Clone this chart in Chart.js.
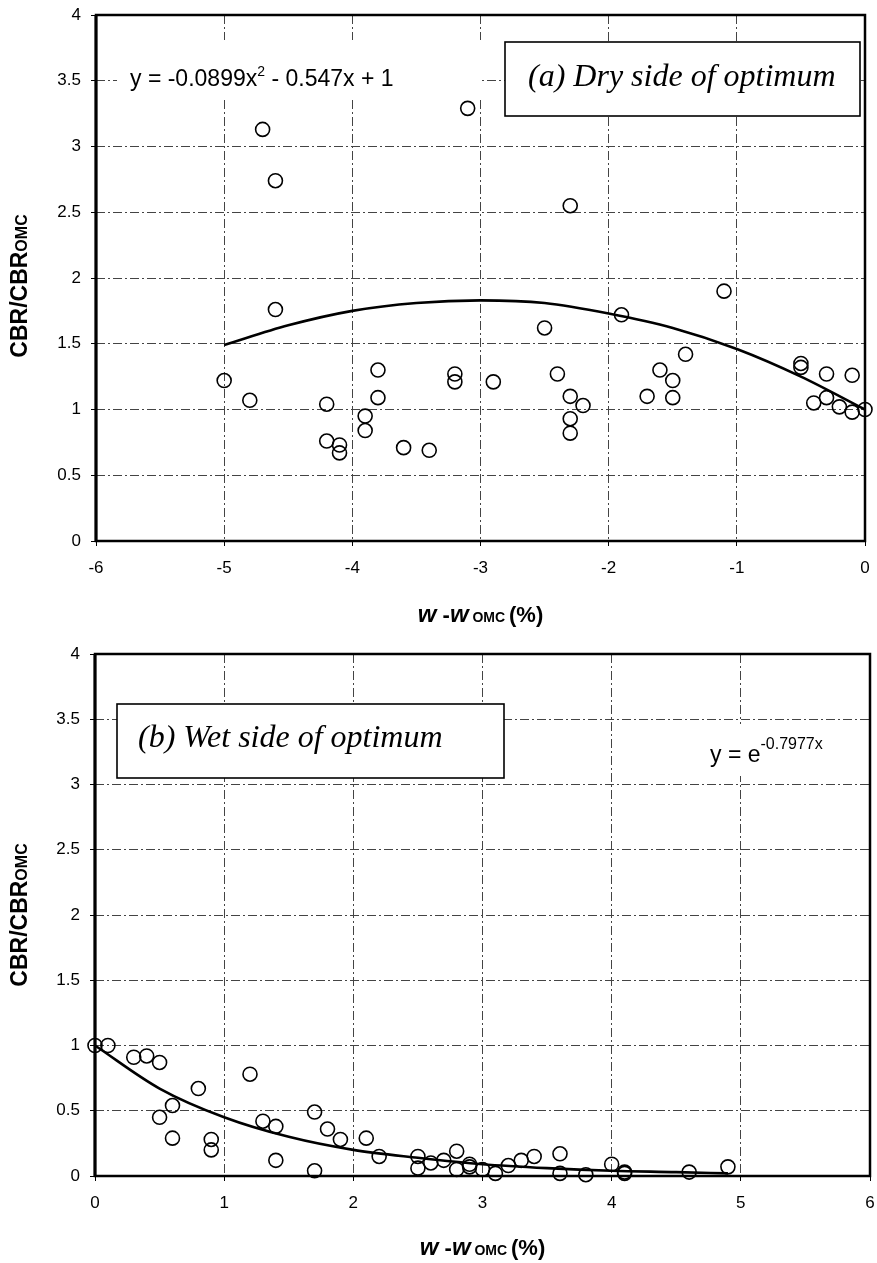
<!DOCTYPE html>
<html>
<head>
<meta charset="utf-8">
<script src="https://cdn.jsdelivr.net/npm/chart.js@4.4.1/dist/chart.umd.min.js"></script>
<style>
  html, body { margin: 0; padding: 0; background: #fff; }
  .panel { position: absolute; left: 0; width: 877px; }
  #dryPanel { top: 0; height: 640px; }
  #wetPanel { top: 640px; height: 623px; }
</style>
</head>
<body>
<div class="panel" id="dryPanel"><canvas id="dryChart" width="877" height="640"></canvas></div>
<div class="panel" id="wetPanel"><canvas id="wetChart" width="877" height="623"></canvas></div>
<script>
// (a) dry side: w - wOMC (%) vs CBR/CBR_OMC
const dryX = [-5, -4.8, -4.7, -4.6, -4.6, -4.2, -4.2, -4.1, -4.1, -3.9, -3.9, -3.8, -3.8, -3.6, -3.4,
  -3.2, -3.2, -3.1, -2.9, -2.5, -2.4, -2.3, -2.3, -2.3, -2.3, -2.2, -1.9, -1.7, -1.6, -1.5, -1.5,
  -1.4, -1.1, -0.5, -0.5, -0.4, -0.3, -0.3, -0.2, -0.1, -0.1, 0];
const dryY = [1.22, 1.07, 3.13, 2.74, 1.76, 1.04, 0.76, 0.73, 0.67, 0.95, 0.84, 1.30, 1.09, 0.71, 0.69,
  1.27, 1.21, 3.29, 1.21, 1.62, 1.27, 2.55, 1.10, 0.93, 0.82, 1.03, 1.72, 1.10, 1.30, 1.22, 1.09,
  1.42, 1.90, 1.35, 1.32, 1.05, 1.27, 1.09, 1.02, 1.26, 0.98, 1.00];
// trend line y = -0.0899x^2 - 0.547x + 1
const dryFitX = [-5, -4.5, -4, -3.5, -3, -2.5, -2, -1.5, -1, -0.5, 0];
const dryFitY = [1.49, 1.64, 1.75, 1.81, 1.83, 1.81, 1.73, 1.62, 1.46, 1.25, 1.00];

// (b) wet side
const wetX = [0, 0.1, 0.3, 0.4, 0.5, 0.5, 0.6, 0.6, 0.8, 0.9, 0.9, 1.2, 1.3, 1.4, 1.4,
  1.7, 1.7, 1.8, 1.9, 2.1, 2.2, 2.5, 2.5, 2.6, 2.7, 2.8, 2.8, 2.9, 2.9, 3.0, 3.1,
  3.2, 3.3, 3.4, 3.6, 3.6, 3.8, 4.0, 4.1, 4.1, 4.6, 4.9];
const wetY = [1.00, 1.00, 0.91, 0.92, 0.87, 0.45, 0.54, 0.29, 0.67, 0.28, 0.20, 0.78, 0.42, 0.38, 0.12,
  0.49, 0.04, 0.36, 0.28, 0.29, 0.15, 0.15, 0.06, 0.10, 0.12, 0.19, 0.05, 0.09, 0.07, 0.05, 0.02,
  0.08, 0.12, 0.15, 0.17, 0.02, 0.01, 0.09, 0.03, 0.02, 0.03, 0.07];
// trend line y = e^(-0.7977x)
const wetFitX = [0, 0.5, 1, 1.5, 2, 2.5, 3, 3.5, 4, 4.5, 4.9];
const wetFitY = [1.00, 0.67, 0.45, 0.30, 0.20, 0.14, 0.09, 0.06, 0.04, 0.03, 0.02];

const yTicks = [0, 0.5, 1, 1.5, 2, 2.5, 3, 3.5, 4];

const SANS = "'Liberation Sans', Arial, sans-serif";
const SERIF = "'Liberation Serif', 'Times New Roman', serif";

function toPoints(xs, ys) {
  return xs.map((x, i) => ({ x: x, y: ys[i] }));
}

// draws a run of text pieces (different sizes / offsets) starting at x
function drawRuns(ctx, runs, x, y, align) {
  let total = 0;
  runs.forEach(r => { ctx.font = r.font; total += ctx.measureText(r.text).width; });
  let cx = align === 'center' ? x - total / 2 : x;
  runs.forEach(r => {
    ctx.font = r.font;
    ctx.fillText(r.text, cx, y + (r.dy || 0));
    cx += ctx.measureText(r.text).width;
  });
}

function decorPlugin(cfg) {
  return {
    id: 'decor',
    // white text box behind the equation, over the grid but under the markers
    beforeDatasetsDraw(chart) {
      const ctx = chart.ctx;
      ctx.save();
      ctx.fillStyle = '#fff';
      ctx.fillRect(cfg.eqBg[0], cfg.eqBg[1], cfg.eqBg[2] - cfg.eqBg[0], cfg.eqBg[3] - cfg.eqBg[1]);
      ctx.restore();
    },
    afterDraw(chart) {
      const ctx = chart.ctx;
      const a = chart.chartArea;
      ctx.save();
      ctx.textBaseline = 'alphabetic';
      ctx.textAlign = 'left';

      // equation
      ctx.fillStyle = '#000';
      drawRuns(ctx, cfg.eq, cfg.eqPos[0], cfg.eqPos[1]);

      // panel label box
      const b = cfg.labelBox;
      ctx.fillStyle = '#fff';
      ctx.fillRect(b[0], b[1], b[2] - b[0], b[3] - b[1]);
      ctx.strokeStyle = '#000';
      ctx.lineWidth = 1.6;
      ctx.strokeRect(b[0], b[1], b[2] - b[0], b[3] - b[1]);
      ctx.fillStyle = '#000';
      ctx.font = 'italic 32px ' + SERIF;
      ctx.fillText(cfg.label, cfg.labelPos[0], cfg.labelPos[1]);

      // plot frame
      ctx.lineWidth = 2.5;
      ctx.strokeRect(a.left, a.top, a.right - a.left, a.bottom - a.top);
      ctx.lineWidth = 3;
      ctx.beginPath();
      ctx.moveTo(a.left, a.top);
      ctx.lineTo(a.left, a.bottom);
      ctx.stroke();

      // x title: w - w_OMC (%)
      const cxm = (a.left + a.right) / 2;
      drawRuns(ctx, [
        { text: 'w', font: 'italic bold 24px ' + SANS },
        { text: ' -', font: 'bold 22px ' + SANS },
        { text: 'w', font: 'italic bold 24px ' + SANS },
        { text: ' OMC ', font: 'bold 14px ' + SANS },
        { text: '(%)', font: 'bold 22px ' + SANS }
      ], cxm, cfg.xTitleY, 'center');

      // y title: CBR/CBR_OMC
      ctx.translate(cfg.yTitleX, (a.top + a.bottom) / 2 + cfg.yTitleShift);
      ctx.rotate(-Math.PI / 2);
      drawRuns(ctx, [
        { text: 'CBR/CBR', font: 'bold 23px ' + SANS },
        { text: 'OMC', font: 'bold 16px ' + SANS }
      ], 0, 7, 'center');
      ctx.restore();
    }
  };
}

function makeChart(canvasId, cfg) {
  const canvas = document.getElementById(canvasId);
  const H = canvas.height;
  const tickFont = { family: SANS, size: 17 };
  return new Chart(canvas.getContext('2d'), {
    type: 'scatter',
    data: {
      datasets: [
        {
          label: 'trend',
          data: toPoints(cfg.fitX, cfg.fitY),
          showLine: true,
          borderColor: '#000',
          borderWidth: 2.6,
          pointRadius: 0,
          cubicInterpolationMode: 'monotone',
          clip: false
        },
        {
          label: 'measured',
          data: toPoints(cfg.x, cfg.y),
          pointStyle: 'circle',
          pointRadius: 7,
          borderWidth: 1.6,
          borderColor: '#000',
          backgroundColor: 'rgba(255,255,255,0)',
          clip: false
        }
      ]
    },
    options: {
      responsive: false,
      animation: false,
      layout: {
        autoPadding: false,
        padding: { top: cfg.area.top, right: 877 - cfg.area.right, left: 0, bottom: 0 }
      },
      plugins: { legend: { display: false }, tooltip: { enabled: false } },
      scales: {
        x: {
          type: 'linear',
          min: cfg.xMin,
          max: cfg.xMax,
          afterFit: s => {
            s.height = H - cfg.area.bottom;
            s.paddingLeft = 0;
            s.paddingRight = 0;
          },
          ticks: { stepSize: 1, color: '#000', font: tickFont, padding: 12, maxRotation: 0 },
          grid: { color: '#444', lineWidth: 1, tickLength: 5, tickColor: '#000' },
          border: { display: false, dash: [9, 3, 2, 3] }
        },
        y: {
          type: 'linear',
          min: 0,
          max: 4,
          afterFit: s => {
            s.width = cfg.area.left;
            s.paddingTop = 0;
            s.paddingBottom = 0;
          },
          afterBuildTicks: s => { s.ticks = yTicks.map(v => ({ value: v })); },
          ticks: { color: '#000', font: tickFont, padding: 10, callback: v => String(v) },
          grid: { color: '#444', lineWidth: 1, tickLength: 5, tickColor: '#000' },
          border: { display: false, dash: [9, 3, 2, 3] }
        }
      }
    },
    plugins: [decorPlugin(cfg)]
  });
}

makeChart('dryChart', {
  x: dryX, y: dryY, fitX: dryFitX, fitY: dryFitY,
  xMin: -6, xMax: 0,
  area: { left: 96, top: 15, right: 865, bottom: 541 },
  eqBg: [117, 40, 482, 100],
  eqPos: [130, 86],
  eq: [
    { text: 'y = -0.0899x', font: '23px ' + SANS },
    { text: '2', font: '14px ' + SANS, dy: -10 },
    { text: ' - 0.547x + 1', font: '23px ' + SANS }
  ],
  label: '(a) Dry side of optimum',
  labelBox: [505, 42, 860, 116],
  labelPos: [528, 86],
  xTitleY: 622,
  yTitleX: 20,
  yTitleShift: 8
});

makeChart('wetChart', {
  x: wetX, y: wetY, fitX: wetFitX, fitY: wetFitY,
  xMin: 0, xMax: 6,
  area: { left: 95, top: 14, right: 870, bottom: 536 },
  eqBg: [702, 84, 835, 136],
  eqPos: [710, 122],
  eq: [
    { text: 'y = e', font: '23px ' + SANS },
    { text: '-0.7977x', font: '16px ' + SANS, dy: -13 }
  ],
  label: '(b) Wet side of optimum',
  labelBox: [117, 64, 504, 138],
  labelPos: [138, 107],
  xTitleY: 615,
  yTitleX: 20,
  yTitleShift: 0
});
</script>
</body>
</html>
